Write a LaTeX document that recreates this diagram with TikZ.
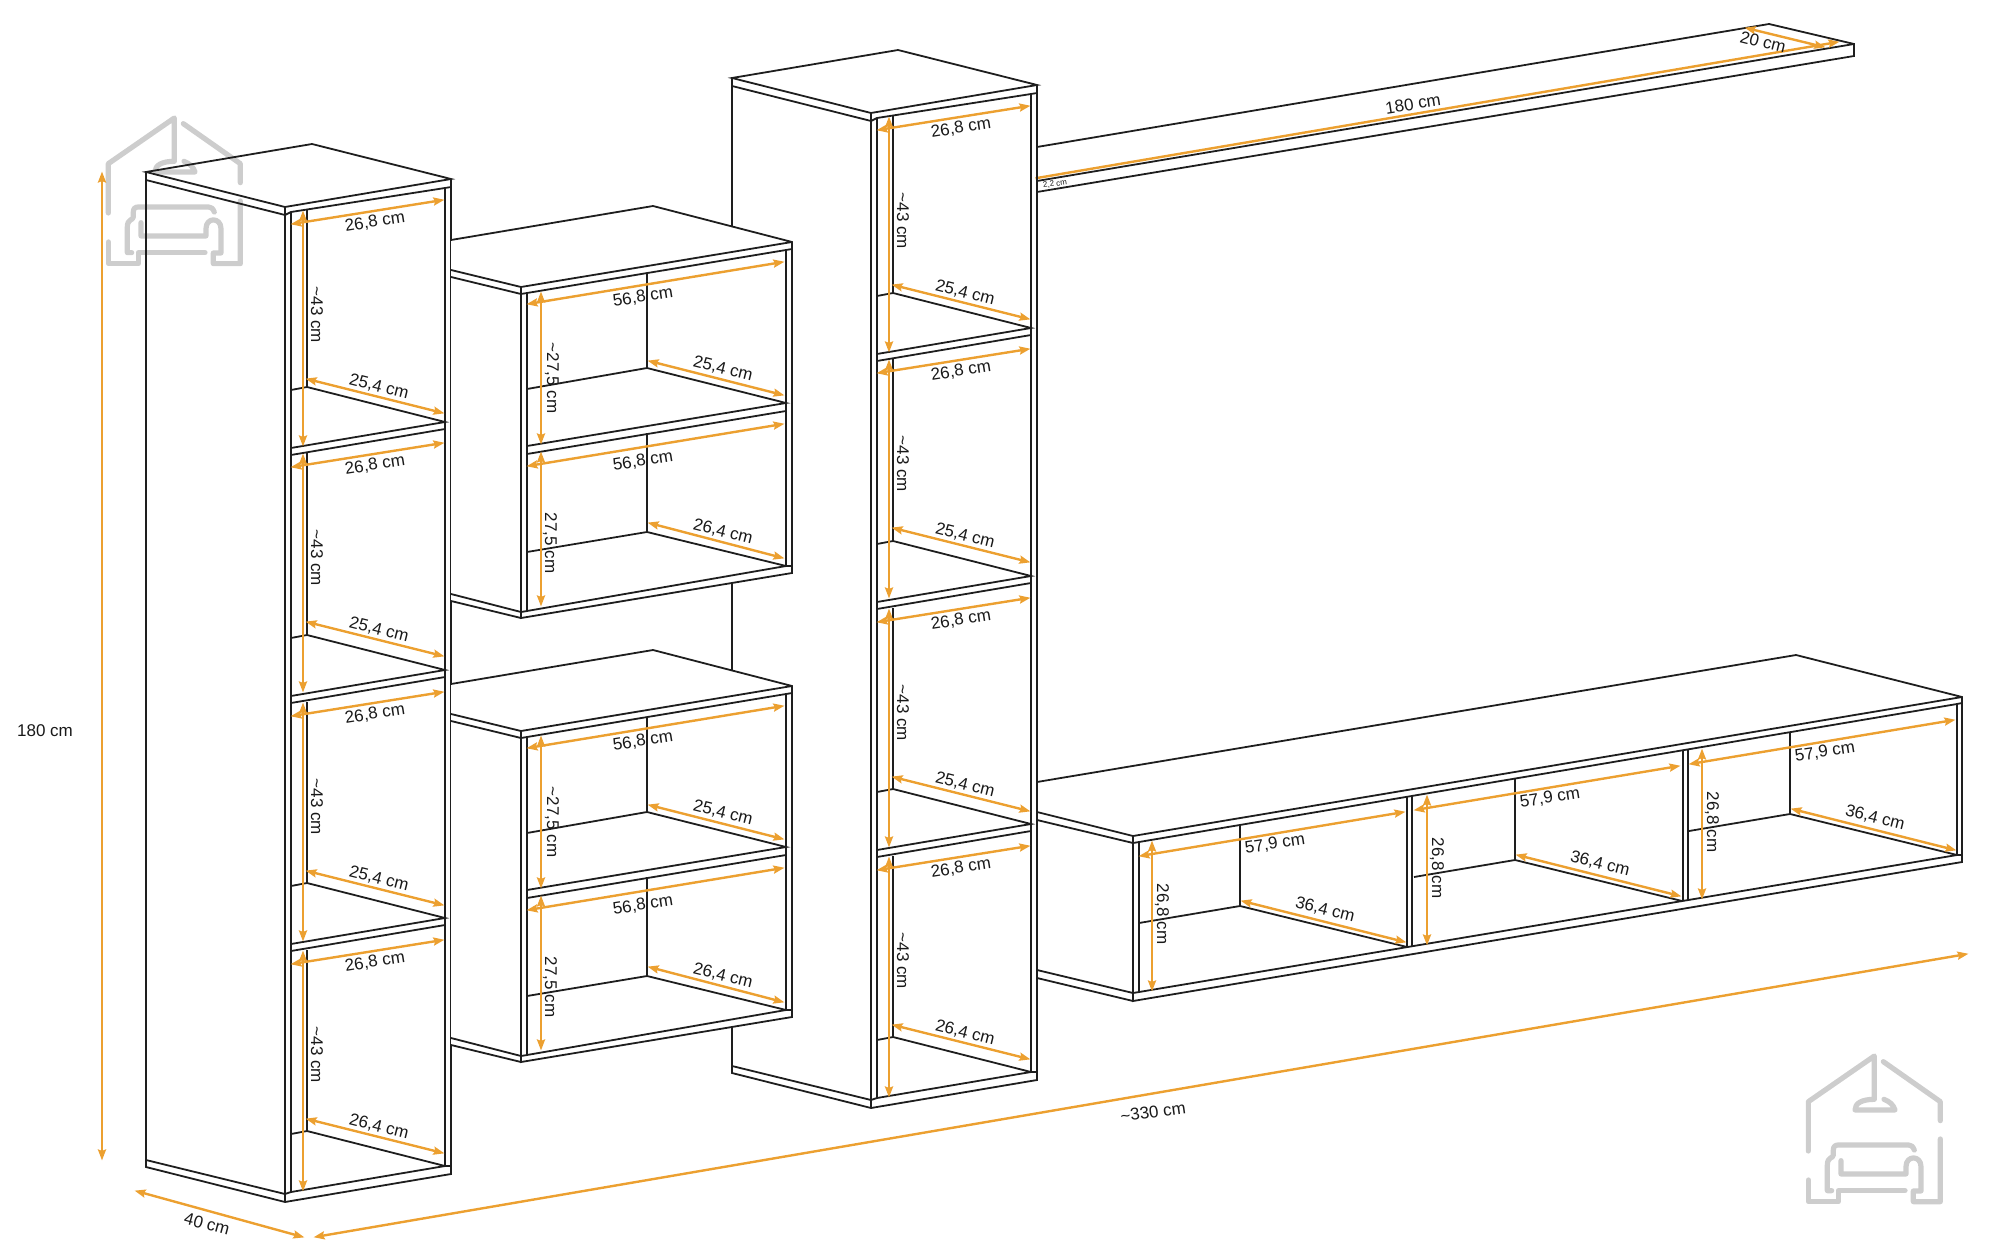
\documentclass[tikz,border=0pt]{standalone}
\usepackage{fontspec}
\setmainfont{Liberation Sans}
\usetikzlibrary{arrows.meta}
\definecolor{panelblack}{RGB}{30,30,30}
\definecolor{dimorange}{RGB}{236,160,48}
\definecolor{logogray}{RGB}{205,205,205}
\tikzset{
    panel/.style={
        draw=panelblack,
        line width=1.8pt,
        line join=miter
    },
    dimline/.style={
        draw=dimorange,
        line width=2.4pt,
        >={Stealth[length=11pt,width=8pt,inset=1.5pt]},
        shorten >=-1.5pt,
        shorten <=-1.5pt,
        <->
    },
    dimend/.style={
        dimline,
        ->
    },
    dimlabel/.style={
        inner sep=0pt,
        text=black!90,
        font=\fontsize{17}{20}\selectfont
    },
    logoline/.style={
        draw=logogray,
        line width=5.2pt,
        line cap=round,
        line join=round
    }
}
\begin{document}
\begin{tikzpicture}[x=1pt, y=-1pt]
\useasboundingbox (0,0) rectangle (2000,1257);

% Logos
\foreach \lx/\ly in {80/102, 1780/1040}{
\begin{scope}[shift={(\lx,\ly)}, x=0.3333pt, y=-0.3333pt]
\draw[logoline] (85,333) -- (85,185) -- (283,48) -- (283,178) .. controls (245,178) and (225,190) .. (225,210) -- (345,210) .. controls (340,195) and (330,185) .. (312,178);
\draw[logoline] (310,65) -- (481,185) -- (481,242);
\draw[logoline] (481,297) -- (481,485) -- (400,485) -- (400,453) -- (423,453) -- (423,380) .. controls (423,345) and (378,345) .. (378,380) -- (378,402) -- (183,402) -- (183,362);
\draw[logoline] (403,330) .. controls (397,318) .. (385,315) -- (175,315) .. controls (165,315) and (160,320) .. (160,330) -- (160,345) .. controls (160,355) and (142,350) .. (142,375) -- (142,452) -- (155,452);
\draw[logoline] (375,452) -- (175,452) -- (175,485) -- (85,485) -- (85,420);
\end{scope}
}

% Wall shelf
\draw[panel] (1037,147) -- (1769,24) -- (1854,44) -- (1854,56) -- (1037,192);
\draw[panel] (1037,181) -- (1854,44);
\draw[dimend] (1037,178) -- (1838,42);
\draw[dimline] (1746,28) -- (1824,47);
\node[dimlabel, rotate=9] (shelflength) at (1413,104) {180 cm};
\node[dimlabel, rotate=-14] (shelfdepth) at (1763,42) {20 cm};
\node[dimlabel, rotate=8, font=\fontsize{8}{9}\selectfont] (shelfthick) at (1055,184) {2,2 cm};

% TV unit
\draw[panel] (1037,782) -- (1796,655) -- (1962,697) -- (1962,862) -- (1133,1001) -- (1133,836) -- (1962,697);
\draw[panel] (1037,812) -- (1133,836);
\draw[panel] (1037,820) -- (1133,843) -- (1139,842) -- (1957,704) -- (1962,703);
\draw[panel] (1037,970) -- (1133,993) -- (1139,992) -- (1957,855) -- (1962,855);
\draw[panel] (1037,978) -- (1133,1001);
\draw[panel] (1139,842) -- (1139,992);
\draw[panel] (1957,704) -- (1957,855);
\draw[panel] (1407,797) -- (1407,947);
\draw[panel] (1412,796) -- (1412,946);
\draw[panel] (1683,751) -- (1683,901);
\draw[panel] (1688,750) -- (1688,900);
\foreach \i in {0,1,2}{
\begin{scope}[shift={(275*\i,-46*\i)}]
\draw[panel] (1240,824) -- (1240,906);
\draw[panel] (1139,923) -- (1240,906) -- (1407,947);
\end{scope}
}
\foreach \i in {0,1,2}{
\begin{scope}[shift={(275*\i,-46*\i)}]
\draw[dimline] (1140,856) -- (1404,812);
\draw[dimline] (1152,842) -- (1152,990);
\draw[dimline] (1242,901) -- (1405,942);
\node[dimlabel, rotate=9] (tvwidth\i) at (1275,844) {57,9 cm};
\node[dimlabel, rotate=-90] (tvheight\i) at (1162,914) {26,8 cm};
\node[dimlabel, rotate=-14] (tvdepth\i) at (1325,910) {36,4 cm};
\end{scope}
}

% Tall towers
\foreach \tx/\ty/\tn in {0/0/left, 586/-94/mid}{
\begin{scope}[shift={(\tx,\ty)}]
\draw[panel] (146,172) -- (312,144) -- (451,179) -- (285,207) -- cycle;
\draw[panel] (146,172) -- (146,1167) -- (285,1202) -- (451,1174) -- (451,179);
\draw[panel] (285,207) -- (285,1202);
\draw[panel] (146,180) -- (285,215) -- (291,212) -- (445,188) -- (451,187);
\draw[panel] (146,1160) -- (285,1194) -- (291,1192);
\draw[panel] (445,1166) -- (451,1166);
\draw[panel] (291,212) -- (291,1192);
\draw[panel] (445,188) -- (445,1166);
% Back walls and shelves
\foreach \d/\e in {0/209, 248/453, 496/702, 744/950}{
\draw[panel] (307,\e) -- (307,387+\d);
\draw[panel] (291,390+\d) -- (307,387+\d) -- (445,422+\d) -- (291,448+\d);
}
\foreach \d in {0,248,496}{
\draw[panel] (291,455+\d) -- (445,429+\d);
}
% Sizes
\foreach \d/\vb/\deep [count=\i] in {0/445/{25,4 cm}, 243/691/{25,4 cm}, 492/940/{25,4 cm}, 740/1190/{26,4 cm}}{
\draw[dimline] (292,224+\d) -- (443,200+\d);
\draw[dimline] (303,212+\d) -- (303,\vb);
\draw[dimline] (307,379+\d) -- (443,413+\d);
\node[dimlabel, rotate=9] (\tn width\i) at (375,222+\d) {26,8 cm};
\node[dimlabel, rotate=-90] (\tn height\i) at (317,315+\d) {\textasciitilde 43 cm};
\node[dimlabel, rotate=-14] (\tn depth\i) at (379,387+\d) {\deep};
}
\end{scope}
}

% Hanging cabinets
\foreach \cy/\cn in {0/upper, 444/lower}{
\begin{scope}[shift={(0,\cy)}]
\fill[white] (451,240) -- (653,206) -- (792,242) -- (792,573) -- (521,618) -- (451,601) -- cycle;
\draw[panel] (451,240) -- (653,206) -- (792,242) -- (792,573) -- (521,618) -- (521,287) -- (792,242);
\draw[panel] (451,270) -- (521,287);
\draw[panel] (451,277) -- (521,294) -- (527,293) -- (786,250) -- (792,249);
\draw[panel] (451,594) -- (521,612) -- (527,611) -- (786,566) -- (792,566);
\draw[panel] (451,601) -- (521,618);
\draw[panel] (527,293) -- (527,611);
\draw[panel] (786,250) -- (786,566);
\draw[panel] (647,273) -- (647,368);
\draw[panel] (527,389) -- (647,368) -- (786,403) -- (527,446);
\draw[panel] (527,454) -- (786,411) -- (786,403);
\draw[panel] (647,433) -- (647,532);
\draw[panel] (527,552) -- (647,532) -- (786,566);
\draw[dimline] (528,304) -- (783,262);
\draw[dimline] (541,293) -- (541,443);
\draw[dimline] (649,361) -- (783,395);
\draw[dimline] (528,466) -- (783,424);
\draw[dimline] (541,453) -- (541,605);
\draw[dimline] (649,523) -- (783,558);
\node[dimlabel, rotate=9] (\cn width1) at (643,297) {56,8 cm};
\node[dimlabel, rotate=-90] (\cn height1) at (552,378) {\textasciitilde 27,5 cm};
\node[dimlabel, rotate=-14] (\cn depth1) at (723,369) {25,4 cm};
\node[dimlabel, rotate=9] (\cn width2) at (643,461) {56,8 cm};
\node[dimlabel, rotate=-90] (\cn height2) at (550,543) {27,5 cm};
\node[dimlabel, rotate=-14] (\cn depth2) at (723,532) {26,4 cm};
\end{scope}
}

% Overall sizes
\draw[dimline] (102,173) -- (102,1159);
\draw[dimline] (136,1191) -- (303,1237);
\draw[dimline] (315,1237) -- (1967,954);
\node[dimlabel] (totalheight) at (45,731) {180 cm};
\node[dimlabel, rotate=-15] (totaldepth) at (207,1224) {40 cm};
\node[dimlabel, rotate=8] (totalwidth) at (1153,1112) {\textasciitilde 330 cm};

\end{tikzpicture}
\end{document}
